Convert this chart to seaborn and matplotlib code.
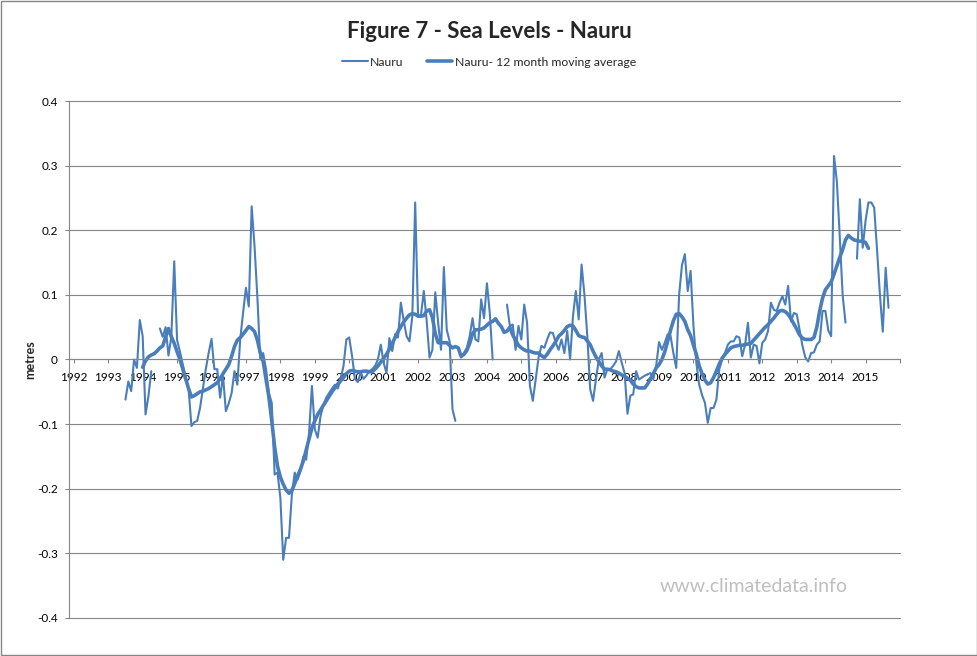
import numpy as np
import pandas as pd
import seaborn as sns
import matplotlib.pyplot as plt
from matplotlib.lines import Line2D
from matplotlib.patches import Rectangle

# monthly values, first entry = January 1993, None = no reading
first_year = 1993
nauru_levels = [
    None, None, None, None, None, None, -0.062, -0.034, -0.049, 0.000, -0.013, 0.061,   # 1993
    0.036, -0.085, -0.057, -0.018, None, None, 0.048, 0.035, 0.050, 0.006, 0.036, 0.152,  # 1994
    0.030, 0.012, -0.008, -0.028, -0.045, -0.103, -0.097, -0.095, -0.075, -0.045, -0.015, 0.010,  # 1995
    0.032, -0.015, -0.015, -0.059, -0.025, -0.080, -0.068, -0.052, -0.018, -0.039, 0.031, 0.072,  # 1996
    0.111, 0.082, 0.237, 0.175, 0.095, 0.000, 0.010, -0.015, -0.052, -0.067, -0.178, -0.175,  # 1997
    -0.214, -0.310, -0.276, -0.276, -0.210, -0.175, -0.186, -0.173, -0.150, -0.155, -0.114, -0.041,  # 1998
    -0.108, -0.121, -0.088, -0.070, -0.059, -0.052, -0.045, -0.039, -0.045, -0.031, -0.010, 0.031,  # 1999
    0.034, 0.005, -0.030, -0.035, -0.020, -0.030, -0.025, -0.018, -0.015, -0.010, 0.000, 0.023,  # 2000
    -0.005, -0.021, 0.033, 0.013, 0.039, 0.034, 0.088, 0.060, 0.036, 0.028, 0.067, 0.243,  # 2001
    0.068, 0.068, 0.106, 0.060, 0.003, 0.015, 0.104, 0.057, 0.015, 0.143, 0.046, 0.028,  # 2002
    -0.077, -0.095, None, 0.003, 0.010, 0.018, 0.036, 0.064, 0.031, 0.028, 0.093, 0.064,  # 2003
    0.118, 0.072, 0.000, None, None, None, None, 0.085, 0.052, 0.054, 0.015, 0.052,  # 2004
    0.031, 0.085, 0.057, -0.041, -0.064, -0.031, 0.003, 0.021, 0.018, 0.031, 0.042, 0.041,  # 2005
    0.026, 0.015, 0.031, 0.010, 0.044, 0.000, 0.067, 0.106, 0.062, 0.147, 0.100, 0.036,  # 2006
    -0.046, -0.064, -0.031, 0.000, 0.010, -0.028, -0.015, -0.015, -0.010, -0.003, 0.013, -0.005,  # 2007
    -0.021, -0.084, -0.056, -0.054, -0.018, -0.031, -0.028, -0.025, -0.023, -0.021, -0.030, -0.010,  # 2008
    0.027, 0.015, 0.026, 0.039, 0.037, 0.010, -0.013, 0.100, 0.146, 0.163, 0.106, 0.137,  # 2009
    0.052, -0.005, -0.039, -0.055, -0.067, -0.098, -0.075, -0.075, -0.062, -0.015, 0.000, 0.010,  # 2010
    0.023, 0.028, 0.028, 0.036, 0.034, 0.005, 0.023, 0.057, 0.003, 0.023, 0.021, -0.006,  # 2011
    0.026, 0.031, 0.044, 0.088, 0.077, 0.075, 0.088, 0.098, 0.085, 0.114, 0.059, 0.072,  # 2012
    0.070, 0.046, 0.021, 0.003, -0.003, 0.010, 0.011, 0.023, 0.028, 0.075, 0.075, 0.045,  # 2013
    0.036, 0.315, 0.275, 0.190, 0.100, 0.057, None, None, None, 0.156, 0.248, 0.173,  # 2014
    0.215, 0.243, 0.243, 0.235, 0.170, 0.100, 0.043, 0.142, 0.080,  # 2015
]

nauru_ma12 = [
    None, None, None, None, None, None, None, None, None, None, None, None,  # 1993
    -0.012, -0.002, 0.004, 0.007, 0.009, 0.013, 0.018, 0.021, 0.035, 0.048, 0.035, 0.025,  # 1994
    0.012, 0.000, -0.015, -0.030, -0.045, -0.058, -0.056, -0.053, -0.050, -0.049, -0.047, -0.045,  # 1995
    -0.042, -0.039, -0.036, -0.030, -0.022, -0.015, -0.008, 0.005, 0.020, 0.030, 0.034, 0.039,  # 1996
    0.045, 0.051, 0.048, 0.043, 0.030, 0.010, -0.003, -0.030, -0.058, -0.095, -0.135, -0.165,  # 1997
    -0.182, -0.193, -0.202, -0.207, -0.203, -0.192, -0.180, -0.170, -0.157, -0.140, -0.123, -0.106,  # 1998
    -0.095, -0.085, -0.078, -0.071, -0.064, -0.057, -0.050, -0.044, -0.038, -0.033, -0.028, -0.022,  # 1999
    -0.018, -0.017, -0.018, -0.019, -0.019, -0.018, -0.018, -0.019, -0.019, -0.015, -0.010, -0.004,  # 2000
    0.002, 0.008, 0.016, 0.025, 0.034, 0.043, 0.051, 0.058, 0.064, 0.069, 0.071, 0.070,  # 2001
    0.067, 0.067, 0.068, 0.075, 0.077, 0.065, 0.040, 0.026, 0.026, 0.026, 0.026, 0.022,  # 2002
    0.018, 0.020, 0.018, 0.005, 0.008, 0.014, 0.025, 0.040, 0.046, 0.046, 0.047, 0.049,  # 2003
    0.053, 0.057, 0.059, 0.063, 0.056, 0.051, 0.042, 0.044, 0.050, 0.038, 0.030, 0.022,  # 2004
    0.018, 0.015, 0.013, 0.013, 0.011, 0.010, 0.010, 0.006, 0.003, 0.008, 0.015, 0.021,  # 2005
    0.028, 0.036, 0.040, 0.045, 0.051, 0.053, 0.052, 0.045, 0.037, 0.035, 0.034, 0.029,  # 2006
    0.023, 0.013, 0.004, -0.003, -0.010, -0.015, -0.015, -0.016, -0.018, -0.019, -0.021, -0.024,  # 2007
    -0.026, -0.029, -0.032, -0.038, -0.042, -0.044, -0.044, -0.044, -0.038, -0.030, -0.022, -0.013,  # 2008
    -0.008, 0.000, 0.012, 0.028, 0.045, 0.060, 0.070, 0.071, 0.066, 0.059, 0.046, 0.037,  # 2009
    0.022, 0.008, -0.010, -0.022, -0.032, -0.038, -0.036, -0.028, -0.018, -0.007, 0.002, 0.008,  # 2010
    0.013, 0.018, 0.020, 0.021, 0.022, 0.022, 0.023, 0.024, 0.025, 0.030, 0.035, 0.040,  # 2011
    0.045, 0.050, 0.054, 0.059, 0.064, 0.070, 0.075, 0.076, 0.074, 0.070, 0.063, 0.055,  # 2012
    0.047, 0.038, 0.033, 0.031, 0.031, 0.031, 0.034, 0.050, 0.075, 0.095, 0.108, 0.114,  # 2013
    0.120, 0.132, 0.145, 0.158, 0.170, 0.185, 0.192, 0.188, 0.185, 0.184, 0.183, 0.183,  # 2014
    0.181, 0.172,  # 2015
]

year_labels = [str(y) for y in range(1992, 2016)]
ytick_labels = ["-0.4", "-0.3", "-0.2", "-0.1", "0", "0.1", "0.2", "0.3", "0.4"]

blue = "#4A7EBB"
grid_grey = "#868686"


def to_frame(values):
    df = pd.DataFrame({"level": pd.array(values, dtype="Float64").astype(float)})
    df["year"] = first_year + np.arange(len(df)) / 12.0
    # separate pieces where readings are missing so lines break there
    df["piece"] = df["level"].isna().cumsum()
    return df.dropna()


raw = to_frame(nauru_levels)
ma = to_frame(nauru_ma12)

sns.set_style("white")
plt.rcParams["font.family"] = ["Lato", "DejaVu Sans"]

fig = plt.figure(figsize=(9.78, 6.56), dpi=100)
ax = fig.add_axes([69 / 978, 1 - 618 / 656, (900 - 69) / 978, (618 - 101) / 656])

sns.lineplot(data=raw, x="year", y="level", units="piece", estimator=None,
             color=blue, lw=1.5, ax=ax, legend=False)
sns.lineplot(data=ma, x="year", y="level", units="piece", estimator=None,
             color=blue, lw=2.6, ax=ax, legend=False)

ax.set_xlim(1991.86, 2016.0)
ax.set_ylim(-0.4, 0.4)
ax.set_yticks(np.linspace(-0.4, 0.4, 9))
ax.set_yticklabels(ytick_labels)
ax.set_xticks(range(1992, 2017))
ax.set_xticklabels(year_labels + [""])
ax.set_xlabel("")
ax.set_ylabel("")

ax.set_axisbelow(True)
ax.yaxis.grid(True, color=grid_grey, lw=0.8)
ax.xaxis.grid(False)
for g in ax.get_ygridlines():
    g.set_clip_on(False)

for side in ["top", "right"]:
    ax.spines[side].set_visible(False)
ax.spines["left"].set_color(grid_grey)
ax.spines["left"].set_linewidth(0.8)
ax.spines["bottom"].set_position(("data", 0))
ax.spines["bottom"].set_color(grid_grey)
ax.spines["bottom"].set_linewidth(0.8)

ax.tick_params(axis="x", direction="out", length=3, width=0.8, color=grid_grey,
               labelsize=8.5, pad=6, labelcolor="black", bottom=True)
ax.tick_params(axis="y", direction="out", length=3, width=0.8, color=grid_grey,
               labelsize=8.5, pad=5, labelcolor="black", left=True)

fig.text(0.5, 1 - 31 / 656, "Figure 7 - Sea Levels - Nauru", ha="center", va="center",
         fontsize=16, fontweight="bold")
fig.text(30 / 978, 1 - 360 / 656, "metres", rotation=90, ha="center", va="center",
         fontsize=9, fontweight="bold")
fig.text(754 / 978, 1 - 587 / 656, "www.climatedata.info", ha="center", va="center",
         fontsize=14, color="#BFBFBF")

handles = [Line2D([], [], color=blue, lw=1.5), Line2D([], [], color=blue, lw=2.6)]
fig.legend(handles, ["Nauru", "Nauru- 12 month moving average"], loc="center",
           bbox_to_anchor=(0.5, 1 - 62 / 656), ncol=2, frameon=False, fontsize=8.8,
           handlelength=2.1, handletextpad=0.2, columnspacing=1.9)

fig.patches.append(Rectangle((0.001, 0.0015), 0.998, 0.997, transform=fig.transFigure,
                             fill=False, edgecolor=grid_grey, lw=1))

fig.savefig("out.png", dpi=100)
